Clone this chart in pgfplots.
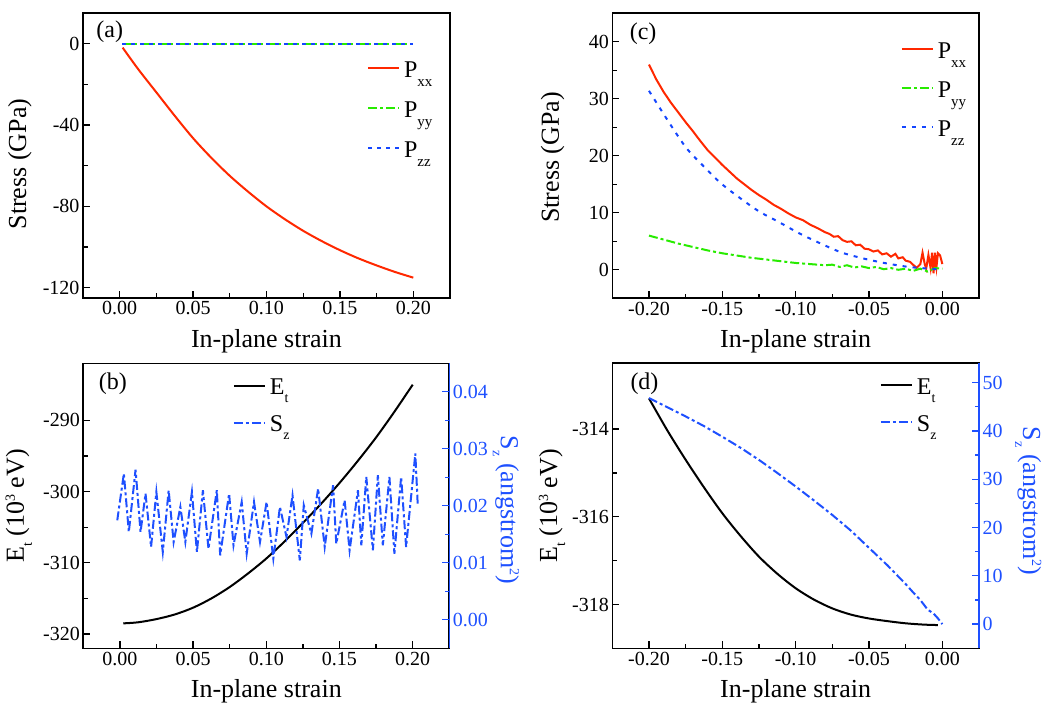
\documentclass[border=0pt]{standalone}
\usepackage{pgfplots}
\pgfplotsset{compat=1.18}
\usepackage{fontspec}
\setmainfont{Liberation Serif}
\definecolor{myred}{RGB}{255,40,0}
\definecolor{mygreen}{RGB}{40,235,0}
\definecolor{myblue}{RGB}{20,70,255}
\definecolor{axblue}{RGB}{30,80,255}
\newcommand{\sub}[1]{\raisebox{-9pt}{\fontsize{15}{15}\selectfont #1}}
\newcommand{\lsub}[1]{\raisebox{-8pt}{\fontsize{14}{14}\selectfont #1}}
\newcommand{\supr}[1]{\raisebox{9pt}{\fontsize{14}{14}\selectfont #1}}
\pgfplotsset{
  panel/.style={
    scale only axis,
    axis line style={line width=1.6pt},
    tick style={black, line width=1.3pt},
    tick align=inside, xtick pos=bottom, ytick pos=left,
    major tick length=7pt, minor tick length=4.5pt,
    minor x tick num=1, minor y tick num=1,
    /pgf/number format/assume math mode=true,
    tick label style={font=\fontsize{20}{20}\selectfont},
    label style={font=\fontsize{26}{26}\selectfont},
    scaled ticks=false,
    xlabel={In-plane strain},
    xlabel style={at={(axis description cs:0.5,-0.172)}, anchor=base},
    xticklabel style={/pgf/number format/.cd, fixed, fixed zerofill, precision=2},
    legend cell align=left,
    legend style={draw=none, fill=none, inner sep=0pt, outer sep=0pt,
      font=\fontsize{24}{24}\selectfont,
      nodes={inner sep=0pt, text height=18pt, text depth=12pt},
      /tikz/every odd column/.append style={column sep=4pt}},
    legend image code/.code={\draw[##1] (0pt,6pt) -- (31pt,6pt);},
  },
  pxx/.style={myred, line width=2pt, solid},
  pyy/.style={mygreen, line width=2pt, dash pattern=on 9pt off 3pt on 3pt off 3pt},
  pzz/.style={myblue, line width=2pt, dash pattern=on 4pt off 6pt},
  etl/.style={black, line width=2pt, solid},
  szl/.style={axblue, line width=2pt, dash pattern=on 9pt off 3pt on 3pt off 3pt},
}
\begin{document}
\begin{tikzpicture}
\useasboundingbox (0pt,0pt) rectangle (1042pt,702pt);
% ---------------- (a)
\begin{axis}[panel, at={(83pt,404pt)}, anchor=south west, width=367pt, height=285pt,
  xmin=-0.025, xmax=0.225, ymin=-125, ymax=15,
  xtick={0,0.05,0.1,0.15,0.2}, ytick={-120,-80,-40,0},
  ylabel={Stress (GPa)},
  ylabel style={at={(axis description cs:-0.172,0.47)}, anchor=center},
  legend style={at={(axis description cs:0.774,0.838)}, anchor=north west,
    /tikz/row sep=10pt}]
\addplot[pxx, smooth] coordinates {
(0.002,-2.0) (0.0125,-12.5) (0.025,-24.0) (0.0375,-35.5) (0.05,-46.5)
(0.0625,-56.2) (0.075,-65.0) (0.0875,-72.8) (0.1,-80.0) (0.1125,-86.3)
(0.125,-92.0) (0.1375,-97.0) (0.15,-101.5) (0.1625,-105.5) (0.175,-109.0)
(0.1875,-112.2) (0.2,-115.0)};
\addlegendentry{P\sub{xx}}
\addplot[mygreen, line width=2pt, dash pattern=on 9pt off 3pt on 3pt off 3pt] coordinates {(0.0016,0) (0.05,0) (0.1,0) (0.15,0) (0.2,0)};
\addlegendentry{P\sub{yy}}
\addplot[myblue, line width=2pt, dash pattern=on 4pt off 5pt] coordinates {(0.0016,0) (0.05,0) (0.1,0) (0.15,0) (0.2,0)};
\addlegendentry{P\sub{zz}}
\node[anchor=west, font=\fontsize{24}{24}\selectfont] at (axis description cs:0.027,0.934) {(a)};
\end{axis}
% ---------------- (c)
\begin{axis}[panel, at={(612.3pt,403.7pt)}, anchor=south west, width=366.7pt, height=285pt,
  xmin=-0.225, xmax=0.025, ymin=-5, ymax=45,
  xtick={-0.2,-0.15,-0.1,-0.05,0}, ytick={0,10,20,30,40},
  ylabel={Stress (GPa)},
  ylabel style={at={(axis description cs:-0.163,0.494)}, anchor=center},
  legend style={at={(axis description cs:0.787,0.905)}, anchor=north west,
    /tikz/row sep=9pt}]
\addplot[pxx] coordinates {
(-0.2,36.0) (-0.195,33.4) (-0.19,31.2) (-0.185,29.3) (-0.18,27.6) (-0.175,25.9)
(-0.17,24.3) (-0.165,22.6) (-0.16,21.0) (-0.155,19.7) (-0.15,18.4) (-0.145,17.2)
(-0.14,16.0) (-0.135,15.0) (-0.13,14.0) (-0.125,13.1) (-0.12,12.3) (-0.115,11.4)
(-0.11,10.7) (-0.105,9.9) (-0.1,9.2) (-0.095,8.7) (-0.09,7.9) (-0.085,7.3)
(-0.08,6.6) (-0.077,6.3) (-0.074,5.8) (-0.071,5.9) (-0.068,5.2) (-0.065,4.9)
(-0.062,5.0) (-0.059,4.3) (-0.056,4.4) (-0.053,3.7) (-0.05,3.6) (-0.047,3.2)
(-0.044,3.4) (-0.041,2.7) (-0.038,2.9) (-0.035,2.3) (-0.032,2.8) (-0.03,2.0)
(-0.027,2.2) (-0.025,1.6) (-0.022,1.4) (-0.02,0.9) (-0.0175,0.35) (-0.015,1.0)
(-0.0135,3.0) (-0.012,1.0) (-0.011,0.2) (-0.0095,2.6) (-0.008,0.3) (-0.007,3.0)
(-0.006,-0.6) (-0.005,3.0) (-0.004,0.5) (-0.003,2.9) (-0.0015,2.5) (0,1.0)};
\addlegendentry{P\sub{xx}}
\addplot[pyy] coordinates {
(-0.2,6.0) (-0.19,5.3) (-0.18,4.6) (-0.17,4.0) (-0.16,3.4) (-0.15,2.9)
(-0.14,2.5) (-0.13,2.1) (-0.12,1.8) (-0.11,1.5) (-0.1,1.2) (-0.09,1.0)
(-0.08,0.8) (-0.075,0.9) (-0.07,0.5) (-0.065,0.8) (-0.06,0.4) (-0.055,0.6)
(-0.05,0.3) (-0.045,0.5) (-0.04,0.1) (-0.035,0.3) (-0.03,0.0) (-0.025,0.2)
(-0.02,-0.2) (-0.015,0.2) (-0.01,-0.3) (-0.005,0.3) (0,0.2)};
\addlegendentry{P\sub{yy}}
\addplot[pzz, smooth] coordinates {
(-0.2,31.4) (-0.1852,25.4) (-0.1743,21.3) (-0.1629,18.2) (-0.1515,15.3)
(-0.1401,13.0) (-0.1253,10.3) (-0.1116,8.4) (-0.0968,6.3) (-0.082,4.5)
(-0.0683,3.0) (-0.0524,1.9) (-0.0376,1.1) (-0.0228,0.5) (-0.0068,0.15) (0,0)};
\addlegendentry{P\sub{zz}}
\node[anchor=west, font=\fontsize{24}{24}\selectfont] at (axis description cs:0.038,0.93) {(c)};
\end{axis}
% ---------------- (b)
\begin{axis}[panel, at={(83.3pt,53.7pt)}, anchor=south west, width=366pt, height=285pt,
  xmin=-0.025, xmax=0.225, ymin=-322, ymax=-282,
  xtick={0,0.05,0.1,0.15,0.2}, ytick={-320,-310,-300,-290},
  ylabel={E\lsub{t} (10\supr{3} eV)},
  ylabel style={at={(axis description cs:-0.176,0.5)}, anchor=center}]
\addplot[etl, smooth] coordinates {
(0.0023,-318.5) (0.0125,-318.35) (0.025,-317.9) (0.0375,-317.25) (0.05,-316.3)
(0.0625,-315.0) (0.075,-313.4) (0.0875,-311.5) (0.1,-309.4) (0.1125,-307.0)
(0.125,-304.4) (0.1375,-301.7) (0.15,-298.8) (0.1625,-295.7) (0.175,-292.4)
(0.1875,-288.8) (0.2,-285.0)};
\node[anchor=west, font=\fontsize{24}{24}\selectfont] at (axis description cs:0.033,0.93) {(b)};
\end{axis}
\begin{axis}[panel, at={(83.3pt,53.7pt)}, anchor=south west, width=366pt, height=285pt,
  xmin=-0.025, xmax=0.225, ymin=-0.005, ymax=0.045,
  axis x line=none, axis y line*=right, ytick pos=right, xlabel={},
  y axis line style={axblue, line width=1.6pt},
  tick style={axblue, line width=1.3pt},
  tick label style={text=axblue},
  ytick={0,0.01,0.02,0.03,0.04},
  yticklabel style={/pgf/number format/.cd, fixed, fixed zerofill, precision=2},
  ylabel={S\lsub{z} (angstrom\supr{2})},
  ylabel style={text=axblue, at={(axis description cs:1.155,0.485)}, anchor=center, rotate=180},
  legend style={at={(axis description cs:0.409,0.952)}, anchor=north west,
    /tikz/row sep=7pt}]
\addlegendimage{black, line width=2pt, solid}
\addlegendentry{E\lsub{t}}
\addplot[szl] coordinates {
(-0.0018,0.01745) (0.0027,0.02565) (0.0061,0.0154) (0.0107,0.02635) (0.0141,0.0154)
(0.0175,0.02214) (0.0213,0.01277) (0.0249,0.02243) (0.0293,0.01189) (0.0333,0.02272)
(0.0367,0.01365) (0.0413,0.0198) (0.0447,0.01365) (0.0492,0.02243) (0.0526,0.01189)
(0.0567,0.02272) (0.0605,0.01247) (0.0662,0.02272) (0.0685,0.0113) (0.0746,0.02214)
(0.0776,0.01306) (0.0832,0.02067) (0.0866,0.0116) (0.0916,0.02067) (0.0957,0.01365)
(0.1002,0.02067) (0.1048,0.01072) (0.1093,0.0198) (0.1138,0.01452) (0.1179,0.02184)
(0.1229,0.01042) (0.1256,0.02009) (0.1308,0.01511) (0.1354,0.02302) (0.1399,0.01277)
(0.1456,0.0236) (0.1478,0.01335) (0.1535,0.02097) (0.1569,0.01218) (0.1626,0.02272)
(0.1649,0.01306) (0.1683,0.02507) (0.1728,0.01218) (0.1762,0.02536) (0.1796,0.01306)
(0.1841,0.02507) (0.1875,0.0116) (0.1921,0.02507) (0.1955,0.01277) (0.2018,0.02917)
(0.2034,0.02038)};
\addlegendentry{S\lsub{z}}
\end{axis}
% ---------------- (d)
\begin{axis}[panel, at={(612.3pt,53.7pt)}, anchor=south west, width=366.7pt, height=285pt,
  xmin=-0.225, xmax=0.025, ymin=-319, ymax=-312.5,
  xtick={-0.2,-0.15,-0.1,-0.05,0}, ytick={-318,-316,-314},
  ylabel={E\lsub{t} (10\supr{3} eV)},
  ylabel style={at={(axis description cs:-0.164,0.5)}, anchor=center}]
\addplot[etl, smooth] coordinates {
(-0.2,-313.3) (-0.1875,-314.03) (-0.175,-314.7) (-0.1625,-315.33) (-0.15,-315.92)
(-0.1375,-316.44) (-0.125,-316.91) (-0.1125,-317.3) (-0.1,-317.63) (-0.0875,-317.89)
(-0.075,-318.09) (-0.0625,-318.23) (-0.05,-318.32) (-0.0375,-318.38) (-0.025,-318.43)
(-0.0125,-318.46) (-0.003,-318.47)};
\node[anchor=west, font=\fontsize{24}{24}\selectfont] at (axis description cs:0.04,0.93) {(d)};
\end{axis}
\begin{axis}[panel, at={(612.3pt,53.7pt)}, anchor=south west, width=366.7pt, height=285pt,
  xmin=-0.225, xmax=0.025, ymin=-5, ymax=54,
  axis x line=none, axis y line*=right, ytick pos=right, xlabel={},
  y axis line style={axblue, line width=1.6pt},
  tick style={axblue, line width=1.3pt},
  tick label style={text=axblue},
  ytick={0,10,20,30,40,50},
  ylabel={S\lsub{z} (angstrom\supr{2})},
  ylabel style={text=axblue, at={(axis description cs:1.134,0.517)}, anchor=center, rotate=180},
  legend style={at={(axis description cs:0.730,0.954)}, anchor=north west,
    /tikz/row sep=7pt}]
\addlegendimage{black, line width=2pt, solid}
\addlegendentry{E\lsub{t}}
\addplot[axblue, line width=2pt, dash pattern=on 9pt off 3pt on 3pt off 3pt] coordinates {
(-0.2,46.8) (-0.1875,44.9) (-0.175,43.0) (-0.1625,41.0) (-0.15,38.8) (-0.1375,36.5)
(-0.125,34.0) (-0.1125,31.3) (-0.1,28.5) (-0.0875,25.6) (-0.075,22.6) (-0.0625,19.4)
(-0.05,15.8) (-0.0375,12.2) (-0.025,8.3) (-0.02,6.6) (-0.015,5.0) (-0.01,3.0)
(-0.006,2.2) (-0.003,1.2) (0,0)};
\addlegendentry{S\lsub{z}}
\end{axis}
\end{tikzpicture}
\end{document}
